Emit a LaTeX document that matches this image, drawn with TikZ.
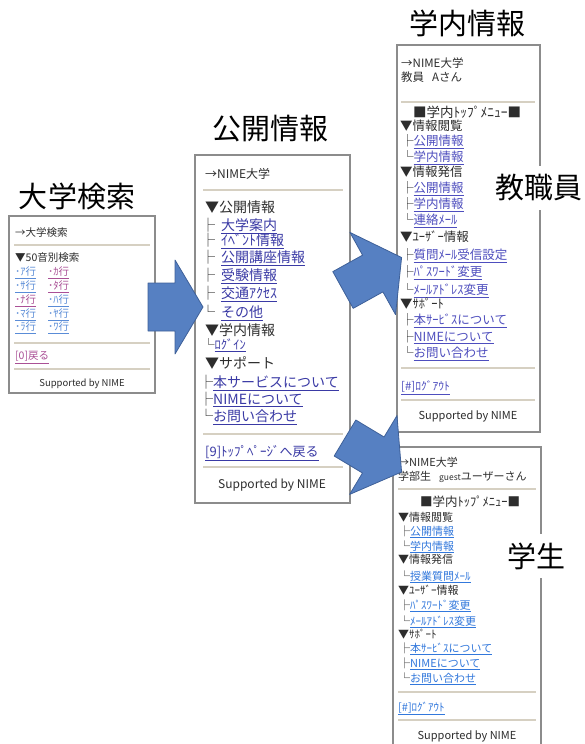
\documentclass[tikz,border=0pt]{standalone}
\usepackage{fontspec}
\setmainfont{Noto Sans CJK JP}
\definecolor{txtc}{RGB}{45,45,45}
\definecolor{panelc}{RGB}{140,140,140}
\definecolor{sepc}{RGB}{214,208,194}
\definecolor{midlink}{RGB}{58,58,165}
\definecolor{trlink}{RGB}{78,78,190}
\definecolor{brlink}{RGB}{50,120,220}
\definecolor{lblue}{RGB}{90,140,215}
\definecolor{lpurple}{RGB}{170,80,150}
\definecolor{arrowfill}{RGB}{86,128,194}
\definecolor{arrowdraw}{RGB}{62,96,152}
\newcommand\lk[2]{\textcolor{#1}{\underline{#2}}}
\newcommand\Ln[5]{\node[anchor=base west, inner sep=0pt, text=txtc, font=\fontsize{#4}{#4}\selectfont] (#1) at (#2,{#3+0.38*#4}) {#5};}
\newcommand\Lc[5]{\node[anchor=base, inner sep=0pt, text=txtc, font=\fontsize{#4}{#4}\selectfont] (#1) at (#2,{#3+0.38*#4}) {#5};}
\begin{document}
\begin{tikzpicture}[x=1pt,y=-1pt,
  panel/.style={draw=panelc, line width=1.1pt, fill=white},
  sepline/.style={draw=sepc, line width=1.3pt},
  title/.style={font=\fontsize{29}{29}\selectfont, inner sep=1pt, text=black},
  lbl/.style={title, fill=white, inner xsep=2pt, inner ysep=9pt},
  blockarrow/.style={fill=arrowfill, draw=arrowdraw, line width=0.8pt, line join=round}]
\useasboundingbox (0,0) rectangle (585,744);

% ---------------- titles
\node[title] (t1) at (77,196) {大学検索};
\node[title] (t2) at (270,129) {公開情報};
\node[title] (t3) at (467,23) {学内情報};

% ---------------- left panel
\draw[panel] (9,216) rectangle (155,393);
\Ln{a1}{15}{233}{10.5}{→大学検索}
\draw[sepline] (14,245) -- (150,245);
\Ln{a2}{15}{258}{10.5}{▼50音別検索}
\Ln{a3}{15}{272}{10.5}{\lk{lblue}{･ｱ行}}
\Ln{a4}{48}{272}{10.5}{\lk{lpurple}{･ｶ行}}
\Ln{a5}{15}{286}{10.5}{\lk{lblue}{･ｻ行}}
\Ln{a6}{48}{286}{10.5}{\lk{lpurple}{･ﾀ行}}
\Ln{a7}{15}{300}{10.5}{\lk{lpurple}{･ﾅ行}}
\Ln{a8}{48}{300}{10.5}{\lk{lblue}{･ﾊ行}}
\Ln{a9}{15}{314}{10.5}{\lk{lblue}{･ﾏ行}}
\Ln{a10}{48}{314}{10.5}{\lk{lblue}{･ﾔ行}}
\Ln{a11}{15}{327}{10.5}{\lk{lblue}{･ﾗ行}}
\Ln{a12}{48}{327}{10.5}{\lk{lblue}{･ﾜ行}}
\draw[sepline] (14,343) -- (150,343);
\Ln{a13}{15}{356}{10.5}{\lk{lpurple}{[0]戻る}}
\draw[sepline] (14,369) -- (150,369);
\Lc{a14}{82}{383}{9.5}{Supported by NIME}

% ---------------- middle panel
\draw[panel] (195,155) rectangle (350,503);
\Ln{m1}{205}{174}{12}{→NIME大学}
\draw[sepline] (203,190) -- (343,190);
\Ln{m2}{205}{207}{14}{▼公開情報}
\Ln{m3}{201}{225}{14}{├\hspace{6pt}\lk{midlink}{大学案内}}
\Ln{m4}{201}{240}{14}{├\hspace{6pt}\lk{midlink}{ｲﾍﾞﾝﾄ情報}}
\Ln{m5}{201}{257}{14}{├\hspace{6pt}\lk{midlink}{公開講座情報}}
\Ln{m6}{201}{275}{14}{├\hspace{6pt}\lk{midlink}{受験情報}}
\Ln{m7}{201}{293}{14}{├\hspace{6pt}\lk{midlink}{交通ｱｸｾｽ}}
\Ln{m8}{201}{312}{14}{└\hspace{6pt}\lk{midlink}{その他}}
\Ln{m9}{205}{330}{14}{▼学内情報}
\Ln{m10}{202}{345}{12.5}{└\lk{midlink}{ﾛｸﾞｲﾝ}}
\Ln{m11}{205}{363}{14}{▼サポート}
\Ln{m12}{199}{382}{14}{├\lk{midlink}{本サービスについて}}
\Ln{m13}{199}{399}{14}{├\lk{midlink}{NIMEについて}}
\Ln{m14}{199}{416}{14}{└\lk{midlink}{お問い合わせ}}
\draw[sepline] (203,434) -- (343,434);
\Ln{m15}{205}{452}{13}{\lk{midlink}{[9]ﾄｯﾌﾟﾍﾟｰｼﾞへ戻る}}
\draw[sepline] (203,467) -- (343,467);
\Lc{m16}{272}{484}{12}{Supported by NIME}

% ---------------- top right panel (faculty)
\draw[panel] (397,45) rectangle (540,432);
\Ln{r1}{401}{63}{11.5}{→NIME大学}
\Ln{r2}{401}{77}{11.5}{教員\hspace{8pt}Aさん}
\draw[sepline] (401,102) -- (535,102);
\Lc{r3}{467}{112}{13.5}{■学内ﾄｯﾌﾟﾒﾆｭｰ■}
\Ln{r4}{400}{126}{12.5}{▼情報閲覧}
\Ln{r5}{401}{141}{12.5}{├\lk{trlink}{公開情報}}
\Ln{r6}{401}{157}{12.5}{└\lk{trlink}{学内情報}}
\Ln{r7}{400}{172}{12.5}{▼情報発信}
\Ln{r8}{401}{188}{12.5}{├\lk{trlink}{公開情報}}
\Ln{r9}{401}{204}{12.5}{├\lk{trlink}{学内情報}}
\Ln{r10}{401}{220}{12.5}{└\lk{trlink}{連絡ﾒｰﾙ}}
\Ln{r11}{400}{237}{12.5}{▼ﾕｰｻﾞｰ情報}
\Ln{r12}{401}{255}{12.5}{├\lk{trlink}{質問ﾒｰﾙ受信設定}}
\Ln{r13}{401}{272}{12.5}{├\lk{trlink}{ﾊﾟｽﾜｰﾄﾞ変更}}
\Ln{r14}{401}{290}{12.5}{└\lk{trlink}{ﾒｰﾙｱﾄﾞﾚｽ変更}}
\Ln{r15}{400}{304}{12.5}{▼ｻﾎﾟｰﾄ}
\Ln{r16}{401}{320}{12.5}{├\lk{trlink}{本ｻｰﾋﾞｽについて}}
\Ln{r17}{401}{337}{12.5}{├\lk{trlink}{NIMEについて}}
\Ln{r18}{401}{353}{12.5}{└\lk{trlink}{お問い合わせ}}
\draw[sepline] (401,368) -- (535,368);
\Ln{r19}{401}{386}{11.5}{\lk{trlink}{[\#]ﾛｸﾞｱｳﾄ}}
\draw[sepline] (401,400) -- (535,400);
\Lc{r20}{468}{415}{11}{Supported by NIME}

% ---------------- bottom right panel (students)
\draw[panel] (393,447) rectangle (541,760);
\Ln{s1}{398}{462}{11}{→NIME大学}
\Ln{s2}{398}{476}{11}{学部生\hspace{8pt}{\fontsize{8.5}{8.5}\selectfont guest}ユーザーさん}
\draw[sepline] (398,489) -- (536,489);
\Lc{s3}{470}{502}{12.5}{■学内ﾄｯﾌﾟﾒﾆｭｰ■}
\Ln{s4}{398}{517}{11}{▼情報閲覧}
\Ln{s5}{399}{531}{11}{├\lk{brlink}{公開情報}}
\Ln{s6}{399}{546}{11}{└\lk{brlink}{学内情報}}
\Ln{s7}{398}{559}{11}{▼情報発信}
\Ln{s8}{399}{576}{11}{└\lk{brlink}{授業質問ﾒｰﾙ}}
\Ln{s9}{398}{590}{11}{▼ﾕｰｻﾞｰ情報}
\Ln{s10}{399}{605}{11}{├\lk{brlink}{ﾊﾟｽﾜｰﾄﾞ変更}}
\Ln{s11}{399}{621}{11}{└\lk{brlink}{ﾒｰﾙｱﾄﾞﾚｽ変更}}
\Ln{s12}{398}{634}{11}{▼ｻﾎﾟｰﾄ}
\Ln{s13}{399}{648}{11}{├\lk{brlink}{本ｻｰﾋﾞｽについて}}
\Ln{s14}{399}{663}{11}{├\lk{brlink}{NIMEについて}}
\Ln{s15}{399}{678}{11}{└\lk{brlink}{お問い合わせ}}
\draw[sepline] (398,692) -- (536,692);
\Ln{s16}{398}{707}{11}{\lk{brlink}{[\#]ﾛｸﾞｱｳﾄ}}
\draw[sepline] (398,720) -- (536,720);
\Lc{s17}{467}{735}{11}{Supported by NIME}

% ---------------- role labels
\node[lbl] (t4) at (539,188) {教職員};
\node[lbl] (t5) at (536,556) {学生};

% ---------------- block arrows
\begin{scope}[shift={(148,307)}]
  \draw[blockarrow] (0,-24) -- (27,-24) -- (27,-47) -- (55,0) -- (27,47) -- (27,24) -- (0,24) -- cycle;
\end{scope}
\begin{scope}[shift={(343,290)}, rotate=29]
  \draw[blockarrow] (0,-21) -- (34,-21) -- (34,-47) -- (67,0) -- (34,47) -- (34,21) -- (0,21) -- cycle;
\end{scope}
\begin{scope}[shift={(345,438)}, rotate=-31]
  \draw[blockarrow] (0,-21) -- (33,-21) -- (33,-46) -- (66,0) -- (33,46) -- (33,21) -- (0,21) -- cycle;
\end{scope}
\end{tikzpicture}
\end{document}
